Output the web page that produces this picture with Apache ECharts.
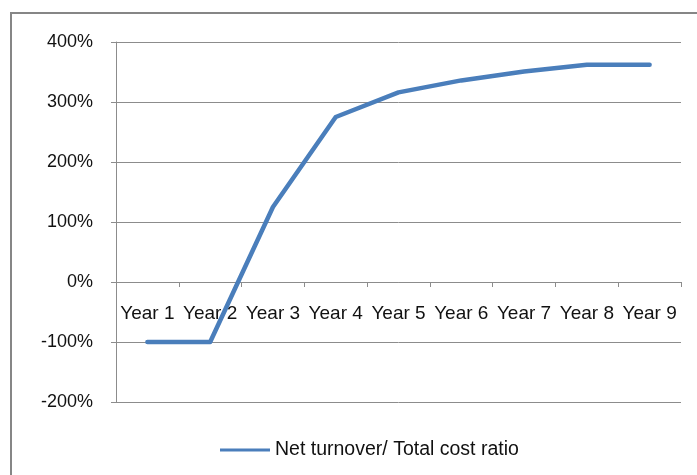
<!DOCTYPE html>
<html><head><meta charset="utf-8">
<script src="https://cdn.jsdelivr.net/npm/echarts@6/dist/echarts.min.js"></script>
<style>html,body{margin:0;padding:0;background:#fff}#c{width:697px;height:475px}</style>
</head><body><div id="c"></div>
<script>
var categories = ['Year 1','Year 2','Year 3','Year 4','Year 5','Year 6','Year 7','Year 8','Year 9'];
var ratioValues = [-100, -100, 125, 275, 316, 336, 351, 362, 362];
var seriesName = 'Net turnover/ Total cost ratio';
var yTicks = {min: -200, max: 400, interval: 100};

var chart = echarts.init(document.getElementById('c'));
var font = 'Liberation Sans, Arial, sans-serif';
chart.setOption({
  animation: false,
  textStyle: {fontFamily: font},
  graphic: [{type: 'rect', shape: {x: 11, y: 13, width: 720, height: 500},
    style: {fill: 'none', stroke: '#868686', lineWidth: 2}, silent: true}],
  grid: {left: 116, right: 16, top: 42, bottom: 73},
  legend: {left: 215, top: 435, itemWidth: 50, itemHeight: 3, itemGap: 4,
    icon: 'rect',
    textStyle: {fontSize: 19.5, color: '#111', fontFamily: font},
    data: [seriesName]},
  xAxis: [{type: 'category', data: categories, boundaryGap: true,
    axisLine: {onZero: true, lineStyle: {color: '#8c8c8c', width: 1}},
    axisTick: {show: true, length: 5, lineStyle: {color: '#8c8c8c'}},
    axisLabel: {show: false}},
    {type: 'category', data: categories, boundaryGap: true, position: 'bottom',
    offset: -120,
    axisLine: {show: false}, axisTick: {show: false},
    axisLabel: {color: '#111', fontSize: 19, margin: 22, interval: 0, fontFamily: font}}],
  yAxis: {type: 'value', min: yTicks.min, max: yTicks.max, interval: yTicks.interval,
    axisLine: {show: true, lineStyle: {color: '#8c8c8c'}},
    axisTick: {show: true, length: 5, lineStyle: {color: '#8c8c8c'}},
    splitLine: {lineStyle: {color: '#8c8c8c', width: 1}},
    axisLabel: {color: '#111', fontSize: 18, margin: 23, formatter: '{value}%', fontFamily: font}},
  series: [{name: seriesName, type: 'line', data: ratioValues, symbol: 'none',
    xAxisIndex: 0,
    lineStyle: {color: '#4A7EBB', width: 4.5, cap: 'round', join: 'round'},
    itemStyle: {color: '#4A7EBB'}}]
});
</script></body></html>
